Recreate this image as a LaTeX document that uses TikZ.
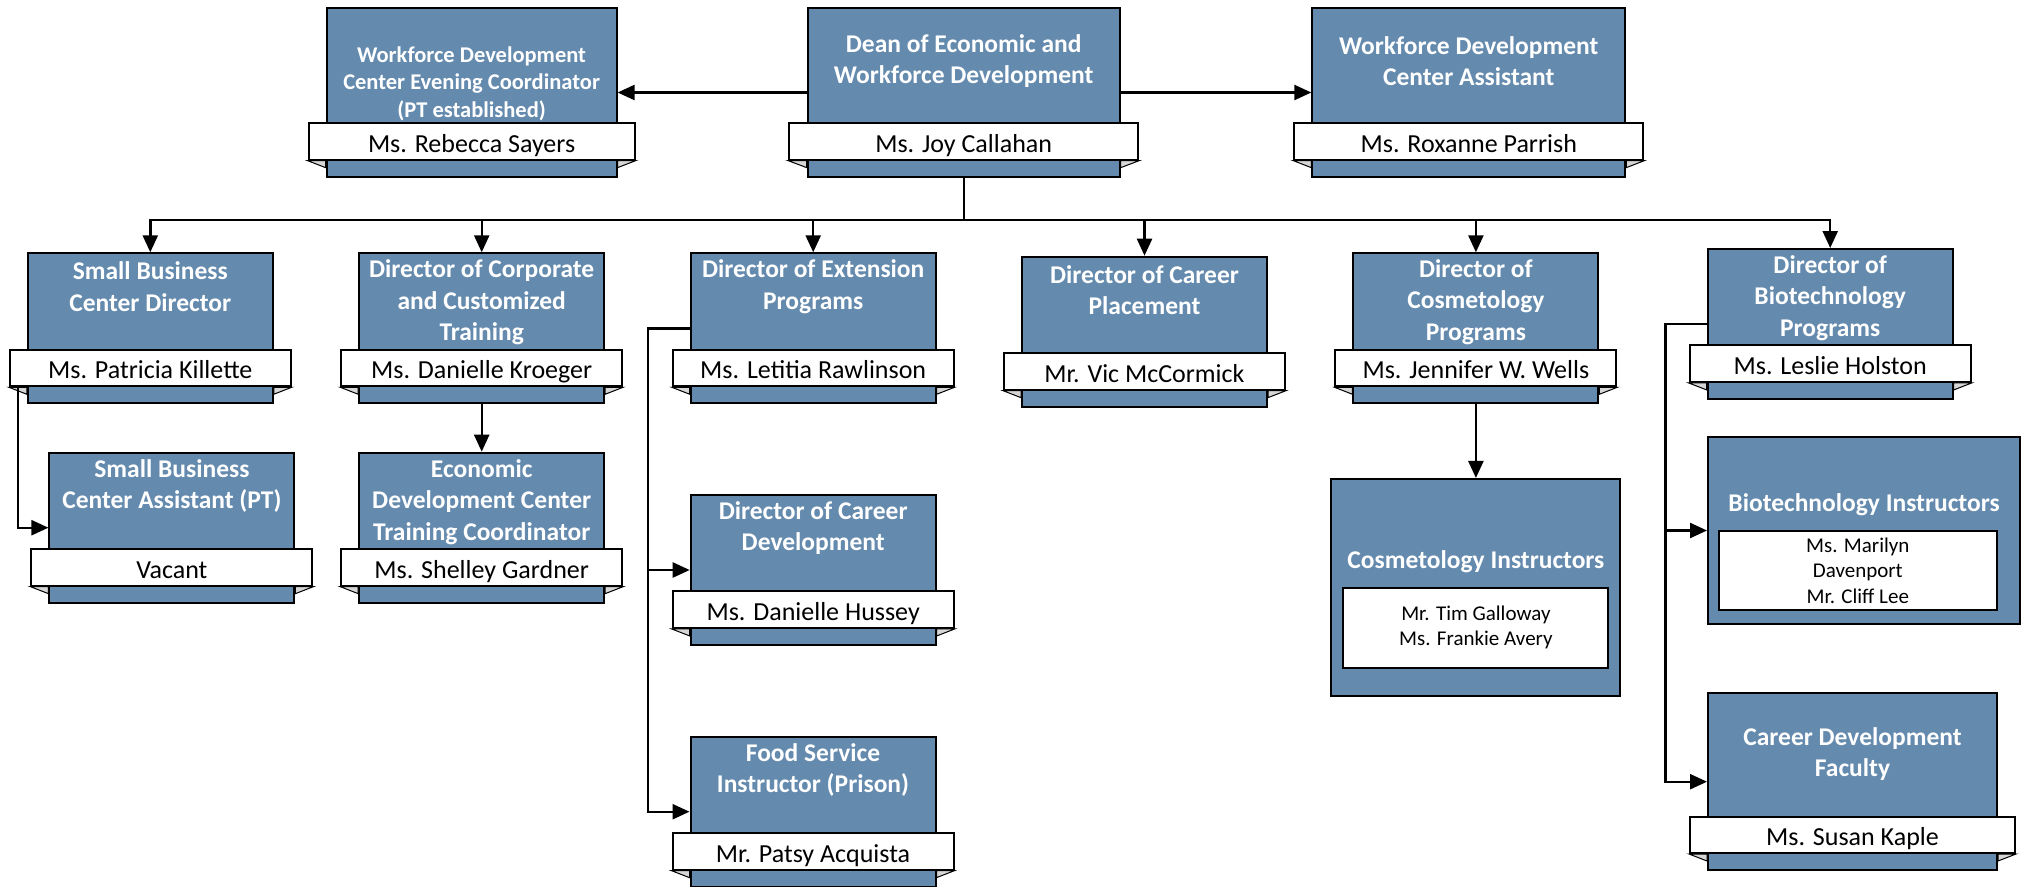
\documentclass[tikz,border=0pt]{standalone}
\usepackage{fontspec}
\setmainfont{Carlito}
\usetikzlibrary{arrows.meta}
\definecolor{postblue}{RGB}{100,138,174}
\definecolor{foldgray}{RGB}{214,214,214}
\begin{document}
\begin{tikzpicture}
[x=1pt, y=-1pt,
  postdecorate/.style={shape=rectangle,inner sep=0pt,draw,line width=2pt,fill=postblue},%
  titledecorate/.style={text=white,align=center,font=\fontsize{25.5}{31.5}\selectfont\bfseries},%
  namedecorate/.style={shape=rectangle,inner sep=0pt,draw,line width=2pt,fill=white,
    minimum height=36.5,text height=24,text depth=2.4,font=\fontsize{26}{30}\selectfont},%
  listdecorate/.style={shape=rectangle,inner sep=0pt,draw,line width=2pt,fill=white,
    align=center,font=\fontsize{21}{25.5}\selectfont},%
  folddecorate/.style={draw,line width=1pt,fill=foldgray},%
  linedecorate/.style={-{Triangle[length=17pt,width=15pt]},line width=2.4pt}]
\useasboundingbox (0,0) rectangle (2023,886);
%% boxes
\foreach \nodename/\x/\y/\w/\h in {eve/471.6/92.5/290/168.4, dean/963.7/92.5/312/168.4,
  asst/1468.8/92.5/313/168.4, sbcd/150.3/328.3/245/150, corp/481.7/328.3/245/150,
  ext/813.2/328.3/245/150, place/1144.5/331.7/245/150, cosd/1475.9/328.3/245/150,
  biod/1830.2/324/245/150, sbca/171.9/527.7/245/150, econ/481.7/527.7/245/150,
  cdev/813.2/570/245/150, food/813/811.7/245/150, cosi/1475.9/587.3/289/216.7,
  bioi/1864/530.5/312/187.6, fac/1852.5/781.7/289/176.7}
{
  \node (\nodename) at (\x,\y) [postdecorate,minimum width=\w,minimum height=\h] {};
}
%% name banners
\foreach \nodename/\w/\person in {eve/326/Ms. Rebecca Sayers, dean/349/Ms. Joy Callahan,
  asst/349/Ms. Roxanne Parrish, sbcd/281/Ms. Patricia Killette, corp/281/Ms. Danielle Kroeger,
  ext/281/Ms. Letitia Rawlinson, place/281/Mr. Vic McCormick, cosd/281/Ms. Jennifer W. Wells,
  biod/281/Ms. Leslie Holston, sbca/281/Vacant, econ/281/Ms. Shelley Gardner,
  cdev/281/Ms. Danielle Hussey, food/281/Mr. Patsy Acquista, fac/325/Ms. Susan Kaple}
{
  \node (\nodename-n) at ([yshift=36.3]\nodename.south) [namedecorate,minimum width=\w] {\person};
  \draw [folddecorate] (\nodename-n.south west) -- (\nodename-n.south west -| \nodename.west)
    -- ([yshift=-7]\nodename-n.south west -| \nodename.west) -- cycle;
  \draw [folddecorate] (\nodename-n.south east) -- (\nodename-n.south east -| \nodename.east)
    -- ([yshift=-7]\nodename-n.south east -| \nodename.east) -- cycle;
}
%% staff lists
\node (cosi-n) at ([yshift=-40.2]cosi.center) [listdecorate,minimum width=265,minimum height=80]
  {Mr. Tim Galloway\\Ms. Frankie Avery};
\node (bioi-n) at ([xshift=-6.2,yshift=-39.9]bioi.center) [listdecorate,minimum width=278,minimum height=79]
  {Ms. Marilyn\\Davenport\\Mr. Cliff Lee};
%% titles
\node [titledecorate,font=\fontsize{22.5}{27.5}\selectfont\bfseries] at (eve.center |- 0,83.5)
  {Workforce Development\\Center Evening Coordinator\\(PT established)};
\foreach \nodename/\y/\jobtitle in {dean/61/{Dean of Economic and\\Workforce Development},
  asst/61/{Workforce Development\\Center Assistant}, sbcd/286.7/{Small Business\\Center Director},
  corp/302.3/{Director of Corporate\\and Customized\\Training},
  ext/286.5/{Director of Extension\\Programs}, place/290/{Director of Career\\Placement},
  cosd/302/{Director of\\Cosmetology\\Programs}, biod/298/{Director of\\Biotechnology\\Programs},
  sbca/486/{Small Business\\Center Assistant (PT)},
  econ/502/{Economic\\Development Center\\Training Coordinator},
  cdev/528/{Director of Career\\Development}, food/770/{Food Service\\Instructor (Prison)},
  cosi/561.7/{Cosmetology Instructors}, bioi/505/{Biotechnology Instructors},
  fac/754/{Career Development\\Faculty}}
{
  \node [titledecorate] at (\nodename.center |- 0,\y) {\jobtitle};
}
%% edges or lines
\coordinate (bus) at (dean.south |- 0,220);
\coordinate (extbus) at (648,0 |- ext.west);
\coordinate (biobus) at (1665.6,0 |- biod.west);
\draw [linedecorate] (dean.west) -- (eve.east);
\draw [linedecorate] (dean.east) -- (asst.west);
\foreach \endnode in {sbcd, corp, ext, place, cosd, biod}
{
  \draw [linedecorate] (dean.south) -- (bus) -| (\endnode.north);
}
\draw [linedecorate] ([xshift=9.4]sbcd-n.south west) |- (sbca.west);
\draw [linedecorate] (corp.south) -- (econ.north);
\draw [linedecorate] (cosd.south) -- (cosi.north);
\foreach \endnode in {cdev, food}
{
  \draw [linedecorate] (ext.west) -- (extbus) |- (\endnode.west);
}
\foreach \endnode in {bioi, fac}
{
  \draw [linedecorate] (biod.west) -- (biobus) |- (\endnode.west);
}
\end{tikzpicture}
\end{document}
